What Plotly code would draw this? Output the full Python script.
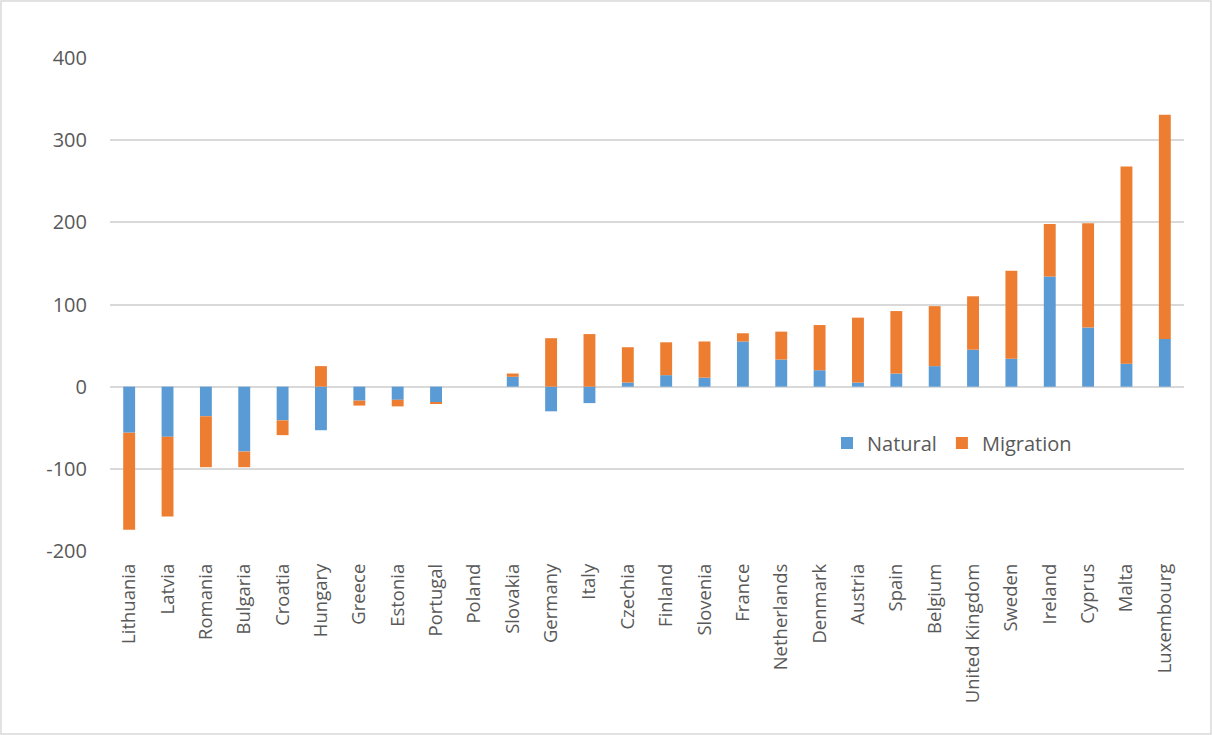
import plotly.graph_objects as go

countries = ["Lithuania", "Latvia", "Romania", "Bulgaria", "Croatia", "Hungary", "Greece",
             "Estonia", "Portugal", "Poland", "Slovakia", "Germany", "Italy", "Czechia",
             "Finland", "Slovenia", "France", "Netherlands", "Denmark", "Austria", "Spain",
             "Belgium", "United Kingdom", "Sweden", "Ireland", "Cyprus", "Malta", "Luxembourg"]

natural = [-56, -61, -36, -79, -41, -53, -17, -16, -19, 0, 12, -30, -20, 5,
           14, 11, 55, 33, 20, 5, 16, 25, 45, 34, 134, 72, 28, 58]

migration = [-118, -97, -62, -19, -18, 25, -6, -8, -1, 0, 4, 59, 64, 43,
             40, 44, 10, 34, 55, 79, 76, 73, 65, 107, 64, 127, 240, 273]

y_ticks = [-200, -100, 0, 100, 200, 300, 400]
y_tick_labels = ["-200", "-100", "0", "100", "200", "300", "400"]

BLUE = "#5B9BD5"
ORANGE = "#ED7D31"
TEXT = "#595959"
GRID = "#D9D9D9"

fig = go.Figure()
fig.add_trace(go.Bar(x=countries, y=natural, name="Natural",
                     marker=dict(color=BLUE, line=dict(width=0))))
fig.add_trace(go.Bar(x=countries, y=migration, name="Migration",
                     marker=dict(color=ORANGE, line=dict(width=0))))

L, R, T, B = 110, 28, 58, 184
W, H = 1212, 735
pw, ph = W - L - R, H - T - B

def px_x(p):
    return (p - L) / pw

def px_y(p):
    return (H - B - p) / ph

fig.update_layout(
    width=W, height=H,
    barmode="relative",
    bargap=0.69,
    paper_bgcolor="white",
    plot_bgcolor="white",
    margin=dict(l=L, r=R, t=T, b=B, pad=0),
    font=dict(family="Open Sans", color=TEXT),
    legend=dict(orientation="h", x=px_x(827), y=px_y(443), xanchor="left", yanchor="middle",
                font=dict(size=20, color=TEXT), bgcolor="rgba(0,0,0,0)",
                itemwidth=30, traceorder="normal"),
    xaxis=dict(tickangle=-90, tickfont=dict(size=18.5, color=TEXT), showgrid=False,
               showline=False, ticks="", ticklabelstandoff=8,
               range=[-0.5, len(countries) - 0.5]),
    yaxis=dict(range=[-200, 400], tickvals=y_ticks, ticktext=y_tick_labels,
               showgrid=True, gridcolor=GRID,
               gridwidth=1.5, zeroline=True, zerolinecolor=GRID, zerolinewidth=1.5,
               tickfont=dict(size=20, color=TEXT), ticks="", ticklabelstandoff=22,
               showline=False),
    shapes=[dict(type="rect", xref="paper", yref="paper",
                 x0=px_x(1), x1=px_x(1211), y0=px_y(734), y1=px_y(1),
                 line=dict(color=GRID, width=1.5), fillcolor="rgba(0,0,0,0)", layer="below")],
    showlegend=True,
)

fig.write_html("out.html")
